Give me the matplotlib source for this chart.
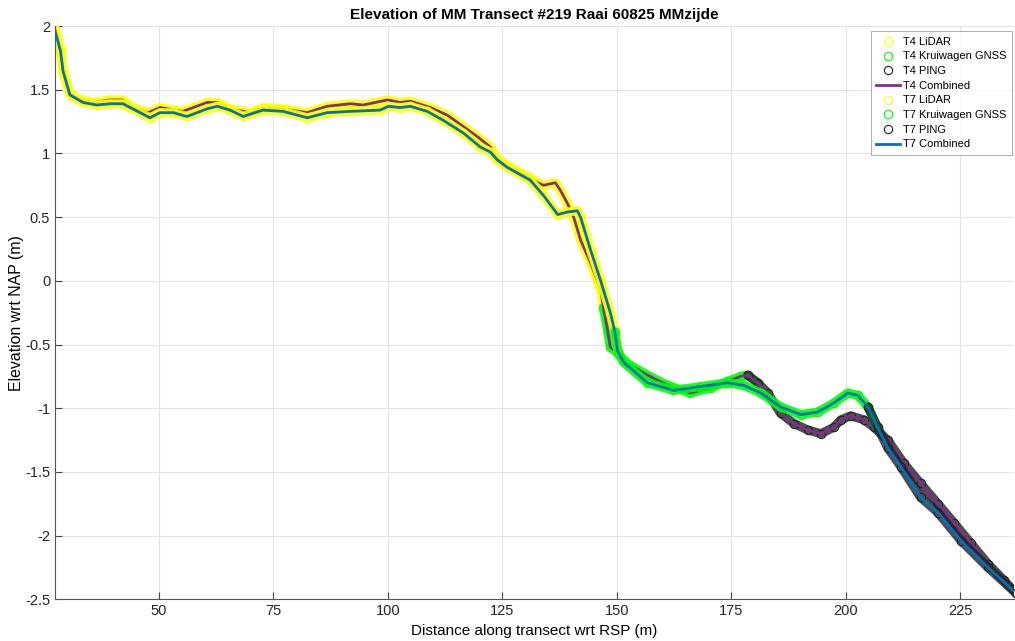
import numpy as np
import matplotlib
matplotlib.use("Agg")
import matplotlib.pyplot as plt

plt.rcParams['font.family'] = ['Liberation Sans', 'DejaVu Sans']
plt.rcParams['axes.unicode_minus'] = False

# T4 combined profile (distance, elevation)
t4_x = [27.3, 28.5, 29.0, 30.5, 32.1, 35.6, 39.3, 42.1, 44.3, 47.6, 50.2, 55.2, 60.5, 62.7,
        65.5, 69.9, 72.7, 77.1, 82.4, 86.7, 91.8, 94.6, 99.9, 102.7, 104.9, 109.3, 113.0,
        116.5, 119.6, 122.4, 123.9, 126.8, 131.1, 132.7, 134.0, 136.6, 137.7, 139.2, 140.6,
        142.1, 144.3, 146.5, 147.1, 148.0, 148.6, 150.2, 152.4, 156.7, 161.1, 166.1, 170.5,
        174.2, 177.1, 178.6, 180.8, 183.0, 185.8, 188.7, 191.7, 194.6, 197.4, 199.0, 201.1,
        204.0, 206.2, 209.2, 212.7, 216.4, 220.2, 223.7, 227.4, 231.1, 234.6, 237.2]
t4_y = [1.98, 1.82, 1.65, 1.48, 1.43, 1.40, 1.42, 1.42, 1.36, 1.32, 1.36, 1.33, 1.40, 1.40,
        1.35, 1.32, 1.36, 1.35, 1.32, 1.37, 1.39, 1.38, 1.42, 1.40, 1.41, 1.36, 1.30,
        1.21, 1.13, 1.05, 0.96, 0.89, 0.81, 0.77, 0.75, 0.77, 0.71, 0.61, 0.50,
        0.32, 0.14, -0.07, -0.21, -0.39, -0.52, -0.57, -0.65, -0.74, -0.82, -0.88, -0.84,
        -0.79, -0.75, -0.74, -0.80, -0.88, -1.04, -1.12, -1.17, -1.20, -1.15, -1.09, -1.06,
        -1.09, -1.15, -1.25, -1.43, -1.59, -1.75, -1.90, -2.06, -2.22, -2.35, -2.45]

# T7 combined profile
t7_x = [27.3, 28.5, 29.0, 30.5, 33.4, 36.4, 39.3, 42.1, 43.7, 48.0, 50.2, 53.1, 56.1, 60.5,
        62.7, 65.5, 68.4, 72.7, 77.1, 82.4, 86.7, 91.8, 98.3, 100.1, 102.7, 104.9, 108.6,
        112.1, 116.5, 120.2, 122.4, 123.9, 126.1, 131.1, 134.0, 137.1, 139.2, 141.4, 142.1,
        144.3, 146.5, 148.6, 149.6, 150.2, 151.5, 156.7, 162.4, 168.3, 174.2, 177.7, 181.5,
        185.8, 190.2, 193.9, 197.4, 200.5, 202.7, 204.9, 207.0, 209.2, 212.1, 216.4, 220.2,
        225.2, 231.1, 237.2]
t7_y = [1.96, 1.80, 1.65, 1.46, 1.40, 1.38, 1.39, 1.39, 1.36, 1.28, 1.32, 1.32, 1.29, 1.35,
        1.37, 1.34, 1.29, 1.34, 1.33, 1.28, 1.32, 1.33, 1.34, 1.37, 1.36, 1.37, 1.33,
        1.26, 1.16, 1.05, 1.01, 0.95, 0.89, 0.79, 0.67, 0.52, 0.54, 0.55, 0.50,
        0.24, 0.00, -0.25, -0.40, -0.55, -0.64, -0.80, -0.86, -0.83, -0.80, -0.82, -0.88,
        -0.99, -1.05, -1.03, -0.96, -0.88, -0.90, -0.99, -1.15, -1.31, -1.46, -1.70, -1.82,
        -2.04, -2.25, -2.45]

# distance ranges covered by each survey method
t4_ranges = {'LiDAR': (27.0, 147.1), 'Kruiwagen GNSS': (147.1, 180.8), 'PING': (178.6, 238.0)}
t7_ranges = {'LiDAR': (27.0, 150.2), 'Kruiwagen GNSS': (149.6, 207.0), 'PING': (204.9, 238.0)}

sensor_colors = {'LiDAR': '#FFFF00', 'Kruiwagen GNSS': '#00FF00', 'PING': '#222222'}

fig = plt.figure(figsize=(10.15, 6.41), dpi=100)
ax = fig.add_axes([0.0542, 0.065, 0.9448, 0.8944])


def plot_transect(name, xs, ys, ranges, line_color):
    xs = np.array(xs)
    ys = np.array(ys)
    for sensor, (lo, hi) in ranges.items():
        m = (xs >= lo) & (xs <= hi)
        col = sensor_colors[sensor]
        ax.plot(xs[m], ys[m], '-', color=col, lw=6.5, solid_capstyle='round',
                solid_joinstyle='round', alpha=0.9 if sensor != 'PING' else 0.8)
        ax.plot(xs[m], ys[m], 'o', ls='none', mfc='none', mec=col, ms=6, mew=0.8,
                label=f'{name} {sensor}')
    ax.plot(xs, ys, '-', color=line_color, lw=2, label=f'{name} Combined')


plot_transect('T4', t4_x, t4_y, t4_ranges, '#7E2F8E')
plot_transect('T7', t7_x, t7_y, t7_ranges, '#0072BD')

ax.set_xlim(27.27, 236.8)
ax.set_ylim(-2.5, 2)
ax.set_xticks([50, 75, 100, 125, 150, 175, 200, 225])
ax.set_yticks([-2.5, -2, -1.5, -1, -0.5, 0, 0.5, 1, 1.5, 2])
ax.set_yticklabels(['-2.5', '-2', '-1.5', '-1', '-0.5', '0', '0.5', '1', '1.5', '2'])
ax.grid(True, color='#E3E3E3', lw=0.8)
ax.set_axisbelow(True)
ax.tick_params(direction='in', length=5, width=0.8, colors='#444444', labelsize=10.5,
               labelcolor='#262626')
for s in ['top', 'right']:
    ax.spines[s].set_visible(False)
for s in ['left', 'bottom']:
    ax.spines[s].set_color('#555555')
    ax.spines[s].set_linewidth(0.8)

ax.set_title('Elevation of MM Transect #219 Raai 60825 MMzijde', fontsize=11, fontweight='bold',
             pad=5)
ax.set_xlabel('Distance along transect wrt RSP (m)', fontsize=11, labelpad=4)
ax.set_ylabel('Elevation wrt NAP (m)', fontsize=11.4, labelpad=0.5)

leg = ax.legend(loc='upper right', fontsize=8, frameon=True, fancybox=False, edgecolor='#888888',
                handlelength=2.1, labelspacing=0.42, borderpad=0.5, handletextpad=0.3,
                borderaxespad=0.0, bbox_to_anchor=(0.998, 0.991))
leg.get_frame().set_linewidth(0.6)

fig.savefig('out.png', dpi=100)
